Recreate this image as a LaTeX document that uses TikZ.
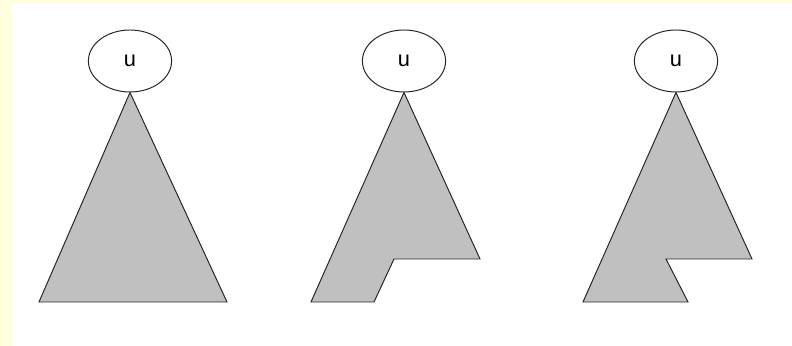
\documentclass[tikz,border=0pt]{standalone}
\usepackage{fontspec}
\setmainfont{Liberation Sans}
\usetikzlibrary{shapes.geometric}
\definecolor{ink}{gray}{0.15}
\definecolor{shade}{RGB}{192,192,192}
\definecolor{pad}{RGB}{255,255,224}

\begin{document}
\begin{tikzpicture}[
  x=0.025cm, y=-0.025cm,
  font=\fontsize{15.5}{18}\selectfont,
  root/.style={ellipse, draw=ink, line width=.7pt, fill=white,
               minimum width=2.08cm, minimum height=1.55cm, inner sep=0pt},
  tree/.style={draw=ink, line width=.7pt, fill=shade, line join=miter},
]
% page and margins
\fill[pad] (0,0) rectangle (792,346);
\fill[white] (11,4) rectangle (792,346);
\useasboundingbox (0,0) rectangle (792,346);

\node[root] (u1) at (130,61) {u};
\node[root] (u2) at (404,61) {u};
\node[root] (u3) at (676,61) {u};

% full subtree
\draw[tree] (u1.south) -- (39,302) -- (227,302) -- cycle;
% right part cut off
\draw[tree] (u2.south) -- (311,302) -- (374,302) -- (394,259)
  -- (480,259) -- cycle;
% notch cut into the base
\draw[tree] (u3.south) -- (583,302) -- (688,302) -- (666,259)
  -- (752,259) -- cycle;
\end{tikzpicture}
\end{document}
